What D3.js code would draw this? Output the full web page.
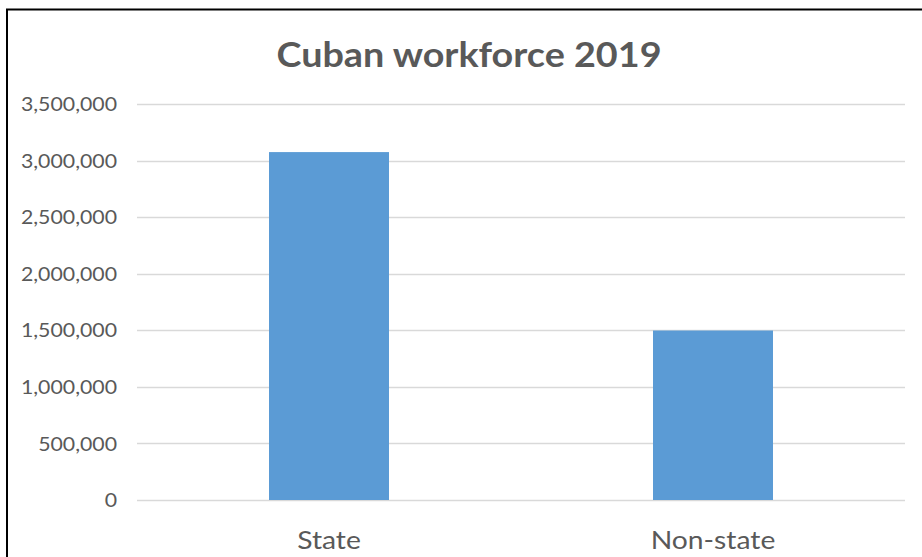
<!DOCTYPE html>
<html><head><meta charset="utf-8">
<script src="https://cdn.jsdelivr.net/npm/d3@7"></script>
<style>body{margin:0;background:#fff;}svg{display:block;}</style>
</head><body>
<svg id="c" width="922" height="557"></svg>
<script>
const categories = ["State", "Non-state"];
const values = [3075000, 1498000];
const yTicks = [0, 500000, 1000000, 1500000, 2000000, 2500000, 3000000, 3500000];
const title = "Cuban workforce 2019";

const svg = d3.select("#c");
const font = "Lato, 'Open Sans', sans-serif";
const txt = "#595959";
const stretch = (sel, f) => sel.each(function () {
  const w = this.getComputedTextLength();
  d3.select(this).attr("textLength", w * f).attr("lengthAdjust", "spacingAndGlyphs");
});

// frame
svg.append("rect").attr("x", 7).attr("y", 9.5).attr("width", 940).attr("height", 600)
  .attr("fill", "none").attr("stroke", "#000").attr("stroke-width", 2);

const x = d3.scaleBand().domain(categories).range([137, 905]).padding(0);
const y = d3.scaleLinear().domain([0, 3500000]).range([500, 104]);

// gridlines
svg.append("g").selectAll("line").data(yTicks).join("line")
  .attr("x1", 137).attr("x2", 905)
  .attr("y1", d => Math.round(y(d)) + 0.5).attr("y2", d => Math.round(y(d)) + 0.5)
  .attr("stroke", "#d9d9d9").attr("stroke-width", 1.5);

// y axis labels
const yAxis = d3.axisLeft(y).tickValues(yTicks).tickFormat(d3.format(",")).tickSize(0).tickPadding(0);
const ga = svg.append("g").attr("transform", "translate(117,0)").call(yAxis);
ga.select(".domain").remove();
ga.selectAll("text").attr("fill", txt).style("font-family", font).style("font-size", "19px")
  .attr("dy", "0.35em").call(stretch, 1.12);

// bars
const bw = x.bandwidth() * 0.3125;
svg.append("g").selectAll("rect").data(values).join("rect")
  .attr("x", (d, i) => x(categories[i]) + x.bandwidth() / 2 - bw / 2)
  .attr("width", bw)
  .attr("y", d => y(d))
  .attr("height", d => y(0) - y(d))
  .attr("fill", "#5B9BD5");

// x labels
const xAxis = d3.axisBottom(x).tickSize(0).tickPadding(0);
const gx = svg.append("g").attr("transform", "translate(0,549)").call(xAxis);
gx.select(".domain").remove();
gx.selectAll("text").attr("fill", txt).style("font-family", font).style("font-size", "25px")
  .attr("dy", "0").call(stretch, 1.13);

// title
svg.append("text").attr("x", 469).attr("y", 67).attr("text-anchor", "middle")
  .attr("fill", txt).style("font-family", font).style("font-size", "34px").style("font-weight", "bold")
  .text(title).call(stretch, 1.11);
</script>
</body></html>
